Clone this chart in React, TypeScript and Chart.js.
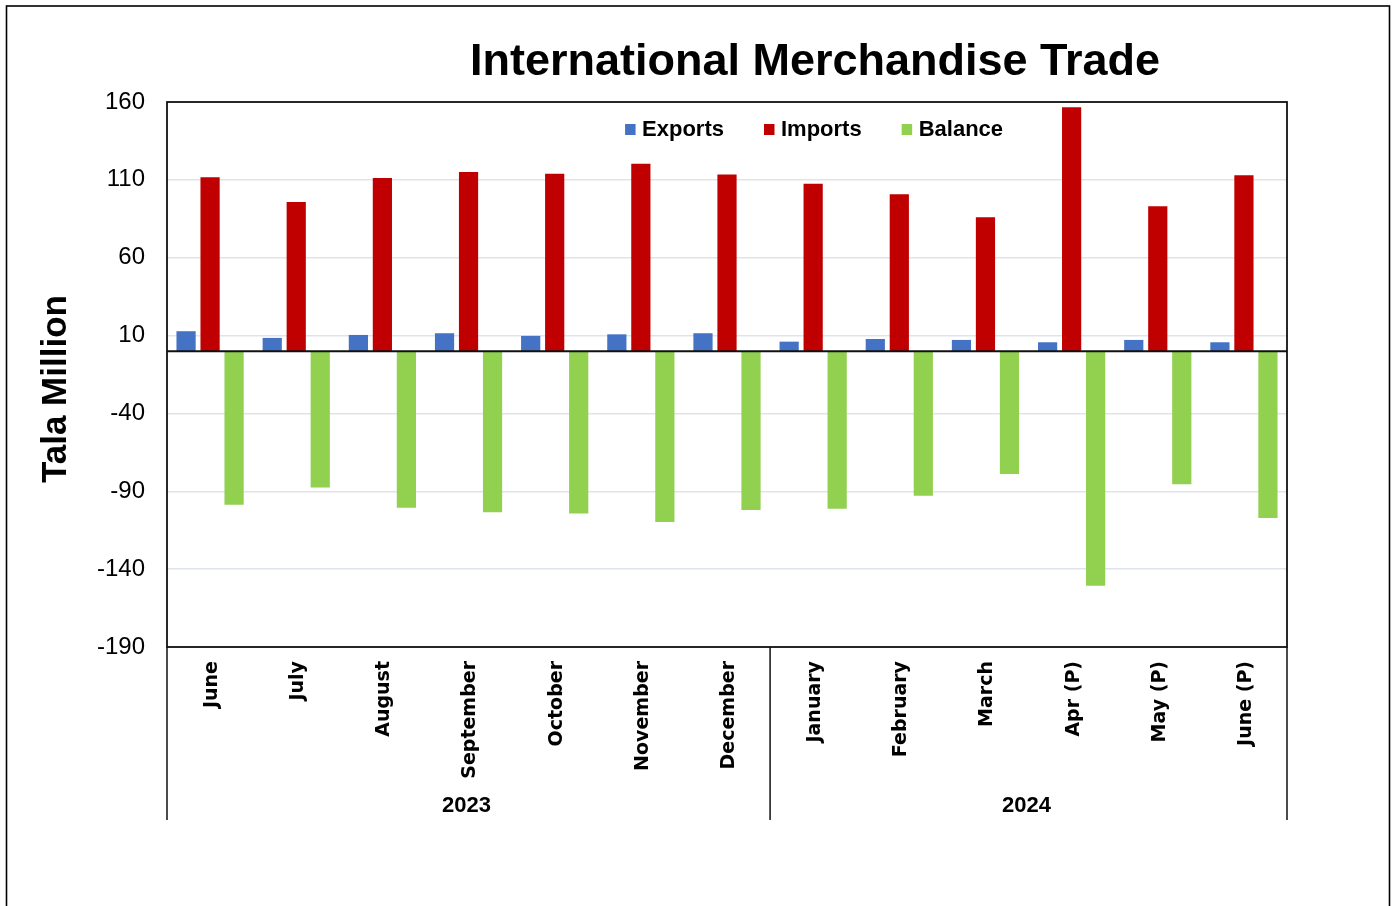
import React, { useEffect, useRef } from "react";
import { Chart, registerables } from "chart.js";

Chart.register(...registerables);

// ---- Data ----
const categories = [
  "June", "July", "August", "September", "October", "November", "December",
  "January", "February", "March", "Apr (P)", "May (P)", "June (P)",
];
const yearLabels = ["2023", "2024"];
const yearFirstIndex = [0, 7];
const yearLastIndex = [6, 12];

const seriesNames = ["Exports", "Imports", "Balance"];
const exportsValues = [12.8, 8.5, 10.4, 11.5, 9.8, 10.8, 11.5, 6.1, 7.8, 7.2, 5.7, 7.2, 5.7];
const importsValues = [111.6, 95.8, 111.2, 115.1, 114.0, 120.4, 113.4, 107.5, 100.8, 86.0, 156.6, 93.0, 113.0];
const balanceValues = [-98.7, -87.6, -100.6, -103.5, -104.3, -109.7, -102.0, -101.2, -92.9, -78.9, -150.7, -85.5, -107.1];

const yMin = -190;
const yMax = 160;
const yStep = 50;

const SANS = '"Liberation Sans", Arial, Helvetica, sans-serif';

const decorPlugin = {
  id: "decor",
  beforeDraw(chart: any) {
    const ctx = chart.ctx;
    ctx.save();
    ctx.fillStyle = "#ffffff";
    ctx.fillRect(0, 0, chart.width, chart.height);
    ctx.restore();
  },
  afterLayout(chart: any) {
    const area = chart.chartArea;
    const title = chart.titleBlock;
    if (title) {
      const cx = area.left + area.width * 0.5786;
      title.left = cx - 600;
      title.right = cx + 600;
    }
  },
  afterDatasetsDraw(chart: any) {
    const ctx = chart.ctx;
    const area = chart.chartArea;
    const y0 = chart.scales.y.getPixelForValue(0);
    ctx.save();
    ctx.strokeStyle = "#111111";
    ctx.lineWidth = 2;
    ctx.beginPath();
    ctx.moveTo(area.left, y0);
    ctx.lineTo(area.right, y0);
    ctx.stroke();
    ctx.restore();
  },
  afterDraw(chart: any) {
    const ctx = chart.ctx;
    const area = chart.chartArea;
    const xs = chart.scales.x;
    ctx.save();
    // plot border
    ctx.strokeStyle = "#111111";
    ctx.lineWidth = 1.8;
    ctx.strokeRect(area.left, area.top, area.right - area.left, area.bottom - area.top);
    // group separators
    const sepBottom = area.bottom + 173;
    ctx.lineWidth = 1.5;
    const seps = [area.left, area.right];
    for (let i = 1; i < yearFirstIndex.length; i++) {
      seps.push(xs.getPixelForValue(yearFirstIndex[i] - 0.5));
    }
    ctx.beginPath();
    seps.forEach((x) => {
      ctx.moveTo(x, area.bottom);
      ctx.lineTo(x, sepBottom);
    });
    ctx.stroke();
    // year labels
    ctx.fillStyle = "#000000";
    ctx.font = `bold 22px ${SANS}`;
    ctx.textAlign = "center";
    ctx.textBaseline = "middle";
    yearLabels.forEach((label, i) => {
      const xa = xs.getPixelForValue(yearFirstIndex[i]);
      const xb = xs.getPixelForValue(yearLastIndex[i]);
      ctx.fillText(label, (xa + xb) / 2 - 2, area.bottom + 159);
    });
    // legend (inside plot area, top)
    ctx.font = `bold 22px ${SANS}`;
    ctx.textAlign = "left";
    ctx.textBaseline = "middle";
    let lx = area.left + area.width * 0.409;
    const ly = area.top + 27.5;
    chart.data.datasets.forEach((ds: any) => {
      ctx.fillStyle = ds.backgroundColor;
      ctx.fillRect(lx, ly - 5.5, 10.5, 11);
      ctx.fillStyle = "#000000";
      ctx.fillText(ds.label, lx + 17, ly);
      lx += 17 + ctx.measureText(ds.label).width + 40;
    });
    // outer frame
    ctx.lineWidth = 1.6;
    ctx.strokeStyle = "#000000";
    ctx.strokeRect(6.5, 6, chart.width - 15, chart.height + 50);
    ctx.restore();
  },
};

export default function App() {
  const canvasRef = useRef<HTMLCanvasElement>(null);

  useEffect(() => {
    const canvas = canvasRef.current;
    if (!canvas) return;
    const chart = new Chart(canvas, {
      type: "bar",
      data: {
        labels: categories,
        datasets: [
          { label: seriesNames[0], data: exportsValues, backgroundColor: "#4472C4" },
          { label: seriesNames[1], data: importsValues, backgroundColor: "#C00000" },
          { label: seriesNames[2], data: balanceValues, backgroundColor: "#92D050" },
        ],
      },
      options: {
        responsive: false,
        animation: false,
        events: [],
        layout: { padding: { left: 30, right: 111, top: 0, bottom: 0 } },
        datasets: {
          bar: { categoryPercentage: 0.836, barPercentage: 0.8 },
        },
        plugins: {
          title: {
            display: true,
            text: "International Merchandise Trade",
            color: "#000000",
            font: { family: SANS, size: 45, weight: "bold" },
            padding: { top: 36, bottom: 12 },
          },
          legend: { display: false },
          tooltip: { enabled: false },
        },
        scales: {
          x: {
            grid: { display: false, drawTicks: false },
            border: { display: false },
            ticks: {
              autoSkip: false,
              maxRotation: 90,
              minRotation: 90,
              padding: 14,
              labelOffset: 2,
              color: "#000000",
              font: { family: '"DejaVu Sans", sans-serif', size: 19, weight: "bold" },
            },
            afterFit: (scale: any) => {
              scale.height = 259;
            },
          },
          y: {
            min: yMin,
            max: yMax,
            ticks: {
              stepSize: yStep,
              padding: 22,
              color: "#000000",
              font: { family: SANS, size: 24 },
            },
            grid: { color: "#dfe3ea", lineWidth: 1.5, drawTicks: false },
            border: { display: false },
            title: {
              display: true,
              text: "Tala Million   ",
              color: "#000000",
              font: { family: SANS, size: 35, weight: "bold" },
              padding: { top: 5, bottom: 0 },
            },
            afterFit: (scale: any) => {
              scale.width = 137;
            },
          },
        },
      },
      plugins: [decorPlugin],
    } as any);
    return () => chart.destroy();
  }, []);

  return (
    <div style={{ position: "absolute", left: 0, top: 0, width: 1398, height: 906, background: "#ffffff" }}>
      <canvas ref={canvasRef} width={1398} height={906} style={{ display: "block", width: 1398, height: 906 }} />
    </div>
  );
}
